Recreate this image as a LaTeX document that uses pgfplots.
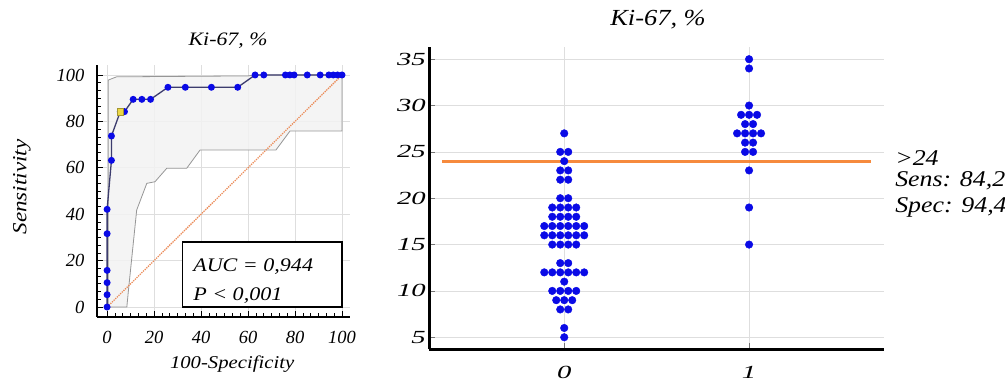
\documentclass[border=0pt]{standalone}
\usepackage{fontspec}
\setmainfont{Liberation Serif}[FakeStretch=1.15]
\newfontfamily\rtick{Liberation Serif}[FakeStretch=1.55]
\newfontfamily\ltick{Liberation Serif}
\usepackage{pgfplots}
\pgfplotsset{compat=1.18}
\definecolor{dotblue}{RGB}{10,10,230}
\definecolor{rocline}{RGB}{60,60,110}
\definecolor{bandfill}{RGB}{242,242,242}
\definecolor{bandedge}{RGB}{150,150,150}
\definecolor{diag}{RGB}{235,140,90}
\definecolor{cutoff}{RGB}{245,125,40}
\definecolor{gridc}{RGB}{222,222,222}
\definecolor{optpt}{RGB}{235,215,70}
\begin{document}
\begin{tikzpicture}
\useasboundingbox (0,0) rectangle (1005pt,381pt);
% ---------------- ROC curve ----------------
\begin{axis}[
  at={(97pt,64pt)}, anchor=south west, scale only axis,
  width=253pt, height=252pt,
  xmin=-4.3, xmax=103.4, ymin=-4.3, ymax=104.3,
  axis x line*=bottom, axis y line*=left,
  axis line style={-, line width=2.5pt},
  xtick={0,20,...,100}, ytick={0,20,...,100},
  minor tick num=5,
  tick align=inside, tick style={black, line width=0.7pt},
  major tick length=6pt, minor tick length=4pt,
  grid=major, major grid style={gridc, line width=0.6pt},
  /pgf/number format/assume math mode=true,
  tick label style={font=\ltick\itshape\fontsize{18.5}{18.5}\selectfont},
  xticklabel style={anchor=base, yshift=-26pt},
  yticklabel style={xshift=-9pt},
  title={Ki-67, \%},
  title style={font=\itshape\fontsize{19}{19}\selectfont, at={(axis description cs:0.518,1.053)}, anchor=base},
  xlabel={100-Specificity},
  xlabel style={font=\itshape\fontsize{18}{18}\selectfont, at={(axis description cs:0.534,-0.206)}, anchor=base},
  ylabel={Sensitivity},
  ylabel style={font=\itshape\fontsize{20}{20}\selectfont, at={(axis description cs:-0.297,0.516)}, anchor=center},
  clip=false,
]
\addplot[fill=bandfill, draw=bandedge, line width=0.8pt, fill opacity=0.85] coordinates {
 (0.5,0)(0.5,97.8)(4,99.2)(60,99.6)(63,100)(100,100)(100,75.9)(77.9,75.9)(71.9,67.7)
 (39.6,67.7)(33.9,59.8)(25.4,59.8)(20.4,54)(16.9,53.3)(12.6,41.8)(9.1,7.3)(8.4,0)(0.5,0)};
\addplot[diag, densely dotted, line width=1.3pt] coordinates {(0,0)(100,100)};
\addplot[rocline, line width=1.3pt, mark=*, mark size=2.8pt,
  mark options={draw=dotblue, fill=dotblue}] coordinates {
 (0,0)(0,5.3)(0,10.5)(0,15.8)(0,31.6)(0,42.1)(1.85,63.2)(1.85,73.7)(5.6,84.2)(7.4,84.2)
 (11.1,89.5)(14.8,89.5)(18.5,89.5)(25.9,94.7)(33.3,94.7)(44.4,94.7)(55.6,94.7)
 (63,100)(66.7,100)(75.9,100)(77.8,100)(79.6,100)(85.2,100)(90.7,100)(94.4,100)
 (96.3,100)(98.1,100)(100,100)};
\addplot[only marks, mark=square*, mark size=3.3pt, mark options={fill=optpt, draw=optpt!70!black}]
 coordinates {(5.6,84.2)};
\draw[black, line width=1.4pt, fill=white] (axis cs:32,0) rectangle (axis cs:100,28);
\node[anchor=base west, font=\itshape\fontsize{19.2}{19.2}\selectfont, inner sep=0pt] at (axis cs:36.6,15.2) {AUC = 0,944};
\node[anchor=base west, font=\itshape\fontsize{19.2}{19.2}\selectfont, inner sep=0pt] at (axis cs:36.6,3.0) {P < 0,001};
\end{axis}
% ---------------- Dot plot ----------------
\begin{axis}[
  at={(429.3pt,31.7pt)}, anchor=south west, scale only axis,
  width=454.7pt, height=302.6pt,
  xmin=-0.73, xmax=1.73, ymin=3.7, ymax=36.35,
  axis x line*=bottom, axis y line*=left,
  axis line style={-, line width=2.8pt},
  xtick={0,1}, ytick={5,10,...,35},
  tick align=inside, tick style={black!55, line width=0.6pt}, major tick length=6pt,
  grid=major, major grid style={gridc, line width=0.7pt},
  /pgf/number format/assume math mode=true,
  tick label style={font=\rtick\itshape\fontsize{18.5}{18.5}\selectfont},
  xticklabel style={anchor=base, yshift=-29pt},
  title={Ki-67, \%},
  title style={font=\itshape\fontsize{23}{23}\selectfont, at={(axis description cs:0.503,1.0486)}, anchor=base},
  clip=false,
]
\addplot[only marks, mark=*, mark size=3.8pt, mark options={draw=dotblue, fill=dotblue}] coordinates {
 (0,27)
 (-0.0216,25)(0.0216,25)
 (0,24)
 (-0.0216,23)(0.0216,23)
 (-0.0216,22)(0.0216,22)
 (-0.0216,20)(0.0216,20)
 (-0.0648,19)(-0.0216,19)(0.0216,19)(0.0648,19)
 (-0.0648,18)(-0.0216,18)(0.0216,18)(0.0648,18)
 (-0.108,17)(-0.0648,17)(-0.0216,17)(0.0216,17)(0.0648,17)(0.108,17)
 (-0.108,16)(-0.0648,16)(-0.0216,16)(0.0216,16)(0.0648,16)(0.108,16)
 (-0.0648,15)(-0.0216,15)(0.0216,15)(0.0648,15)
 (-0.0216,13)(0.0216,13)
 (-0.108,12)(-0.0648,12)(-0.0216,12)(0.0216,12)(0.0648,12)(0.108,12)
 (0,11)
 (-0.0648,10)(-0.0216,10)(0.0216,10)(0.0648,10)
 (-0.0432,9)(0,9)(0.0432,9)
 (-0.0216,8)(0.0216,8)
 (0,6)
 (0,5)
};
\addplot[only marks, mark=*, mark size=3.8pt, mark options={draw=dotblue, fill=dotblue}] coordinates {
 (1,35)
 (1,34)
 (1,30)
 (0.9568,29)(1,29)(1.0432,29)
 (0.9784,28)(1.0216,28)
 (0.9352,27)(0.9784,27)(1.0216,27)(1.0648,27)
 (0.9784,26)(1.0216,26)
 (0.9784,25)(1.0216,25)
 (1,23)
 (1,19)
 (1,15)
};
\addplot[cutoff, line width=3pt, opacity=0.9] coordinates {(-0.66,24)(1.66,24)};
\node[anchor=base west, font=\itshape\fontsize{22.5}{22.5}\selectfont, inner sep=0pt] at (axis cs:1.79,23.48) {>24};
\node[anchor=base west, font=\itshape\fontsize{22.5}{22.5}\selectfont, inner sep=0pt] at (axis cs:1.79,21.25) {Sens: 84,2};
\node[anchor=base west, font=\itshape\fontsize{22.5}{22.5}\selectfont, inner sep=0pt] at (axis cs:1.79,18.44) {Spec: 94,4};
\end{axis}
\end{tikzpicture}
\end{document}
